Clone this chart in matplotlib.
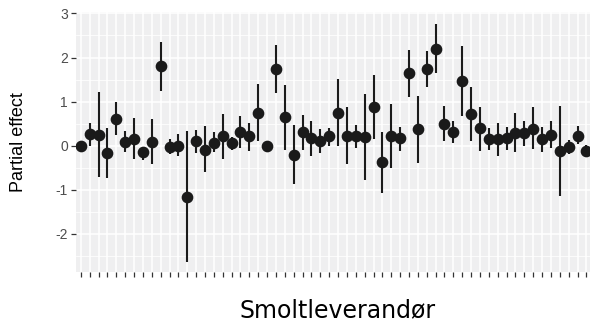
import matplotlib
matplotlib.use("Agg")
import matplotlib.pyplot as plt
import numpy as np

estimate = [0.00, 0.26, 0.25, -0.17, 0.61, 0.08, 0.16, -0.15, 0.08, 1.80,
            -0.02, 0.00, -1.17, 0.10, -0.10, 0.05, 0.21, 0.05, 0.30, 0.21,
            0.75, 0.00, 1.74, 0.65, -0.21, 0.30, 0.17, 0.11, 0.23, 0.75,
            0.23, 0.23, 0.20, 0.88, -0.38, 0.23, 0.17, 1.65, 0.38, 1.75,
            2.20, 0.49, 0.32, 1.47, 0.72, 0.39, 0.15, 0.14, 0.17, 0.29,
            0.29, 0.38, 0.15, 0.25, -0.13, -0.04, 0.21, -0.13]
upper = [0.00, 0.51, 1.22, 0.40, 0.99, 0.34, 0.62, -0.04, 0.60, 2.35,
         0.14, 0.27, 0.33, 0.35, 0.44, 0.32, 0.72, 0.20, 0.68, 0.51,
         1.41, 0.00, 2.28, 1.38, 0.46, 0.69, 0.56, 0.37, 0.39, 1.51,
         0.87, 0.46, 1.17, 1.60, 0.32, 0.94, 0.43, 2.18, 1.13, 2.14,
         2.77, 0.89, 0.57, 2.26, 1.34, 0.87, 0.41, 0.51, 0.43, 0.74,
         0.57, 0.87, 0.43, 0.55, 0.90, 0.12, 0.44, 0.01]
lower = [0.00, 0.00, -0.71, -0.73, 0.25, -0.15, -0.30, -0.33, -0.42, 1.25,
         -0.19, -0.24, -2.63, -0.17, -0.59, -0.15, -0.30, -0.10, -0.05, -0.11,
         0.10, 0.00, 1.20, -0.09, -0.88, -0.09, -0.24, -0.16, 0.00, 0.00,
         -0.42, -0.05, -0.79, 0.15, -1.07, -0.50, -0.11, 1.11, -0.39, 1.34,
         1.64, 0.10, 0.07, 0.68, 0.10, -0.11, -0.09, -0.24, -0.09, -0.15,
         0.00, -0.08, -0.14, -0.05, -1.14, -0.18, 0.03, -0.26]
categories = [f"S{i+1}" for i in range(len(estimate))]
y_ticks = [-2, -1, 0, 1, 2, 3]

fig = plt.figure(figsize=(5.9, 3.22), dpi=100)
ax = fig.add_axes([75.5 / 590, 50.3 / 322, 516.2 / 590, 260 / 322])
ax.set_facecolor("#EFEFF0")
for s in ax.spines.values():
    s.set_visible(False)

x = np.arange(len(categories))
ax.set_xlim(-0.6, len(categories) - 1 + 0.6)
ax.set_ylim(-2.86, 3.04)

# grid
for yv in np.arange(-2.5, 3.01, 1.0):
    ax.axhline(yv, color="white", lw=0.55, zorder=0)
for yv in y_ticks:
    ax.axhline(yv, color="white", lw=1.1, zorder=0)
for xv in x:
    ax.axvline(xv, color="white", lw=1.1, zorder=0)

ax.vlines(x, lower, upper, color="#1A1A1A", lw=1.5, zorder=2)
ax.plot(x, estimate, "o", color="#1A1A1A", ms=7.4, zorder=3)

ax.set_xticks(x)
ax.set_xticklabels([])
ax.set_yticks(y_ticks)
ax.set_yticklabels([str(v) for v in y_ticks], family="Liberation Sans",
                   fontsize=10, color="#4D4D4D")
ax.tick_params(axis="both", length=3.5, width=0.9, color="#333333")
ax.tick_params(axis="y", pad=2)

ax.set_ylabel("Partial effect", family="Liberation Sans", fontsize=13,
              color="black")
ax.yaxis.set_label_coords((27 - 75.5) / 516.2, 0.5)
ax.set_xlabel("Smoltleverandør", family="DejaVu Sans", fontsize=17,
              color="black", labelpad=12)
ax.xaxis.set_label_coords((338 - 75.5) / 516.2, -(298 - 271.7) / 260)
ax.xaxis.label.set_va("top")

fig.savefig("out.png", dpi=100)
